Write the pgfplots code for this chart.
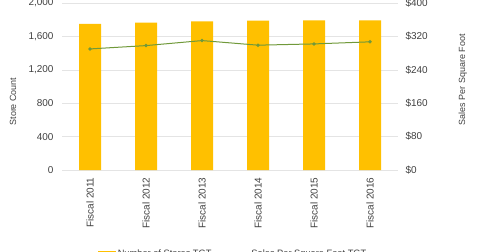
\documentclass[border=0pt]{standalone}
\usepackage{pgfplots}
\pgfplotsset{compat=1.18}
\usepackage{fontspec}
\setmainfont{Liberation Sans}
\definecolor{barc}{RGB}{255,192,0}
\definecolor{linec}{RGB}{112,153,58}
\definecolor{gridc}{RGB}{228,228,228}
\definecolor{txt}{RGB}{64,64,64}
\begin{document}
\begin{tikzpicture}[x=1bp,y=1bp]
\useasboundingbox (0,0) rectangle (480,251);
\begin{axis}[
  at={(62bp,81bp)}, anchor=south west,
  scale only axis, width=336bp, height=167bp,
  xmin=-0.5, xmax=5.5, ymin=0, ymax=2000,
  xtick={0,1,2,3,4,5},
  xticklabels={Fiscal 2011,Fiscal 2012,Fiscal 2013,Fiscal 2014,Fiscal 2015,Fiscal 2016},
  x tick label style={rotate=90, anchor=east, font=\fontsize{10}{12}\selectfont, text=txt},
  xticklabel shift=4bp,
  ytick={0,400,...,2000},
  y tick label style={font=\fontsize{10}{12}\selectfont, text=txt},
  yticklabel shift=5bp,
  axis x line*=bottom, axis y line*=left,
  x axis line style={draw=gridc, -}, y axis line style={draw=none},
  ymajorgrids, grid style={gridc},
  major tick length=0pt,
  ylabel={Store Count},
  ylabel style={at={(axis description cs:-0.146,0.41)}, anchor=center, font=\fontsize{9}{11}\selectfont, text=txt},
  /pgf/number format/1000 sep={,},
  /pgf/number format/assume math mode=true,
]
\addplot[ybar, bar width=22bp, fill=barc, draw=none] coordinates {
  (0,1750) (1,1765) (2,1780) (3,1790) (4,1792) (5,1792)};
\end{axis}
\begin{axis}[
  at={(62bp,81bp)}, anchor=south west,
  scale only axis, width=336bp, height=167bp,
  xmin=-0.5, xmax=5.5, ymin=0, ymax=400,
  axis x line=none, axis y line*=right,
  y axis line style={draw=none},
  ytick={0,80,...,400},
  yticklabel={\$\pgfmathprintnumber{\tick}},
  y tick label style={font=\fontsize{10}{12}\selectfont, text=txt},
  yticklabel shift=4bp,
  major tick length=0pt,
  ylabel={Sales Per Square Foot},
  ylabel style={at={(axis description cs:1.193,0.54)}, anchor=center, rotate=0, font=\fontsize{9}{11}\selectfont, text=txt},
  /pgf/number format/assume math mode=true,
  legend columns=2,
  legend style={at={(axis description cs:0.51,-0.455)}, anchor=north, draw=none, font=\fontsize{9.3}{11}\selectfont, text=txt, /tikz/every even column/.append style={column sep=18bp}},
]
\addlegendimage{area legend, color=barc, fill=barc, draw=barc}
\addlegendentry{Number of Stores TGT}
\addplot[color=linec, line width=1bp, mark=*, mark size=1.2bp] coordinates {
  (0,290) (1,298) (2,310) (3,299) (4,302) (5,307)};
\addlegendentry{Sales Per Square Foot TGT}
\end{axis}
\end{tikzpicture}
\end{document}
